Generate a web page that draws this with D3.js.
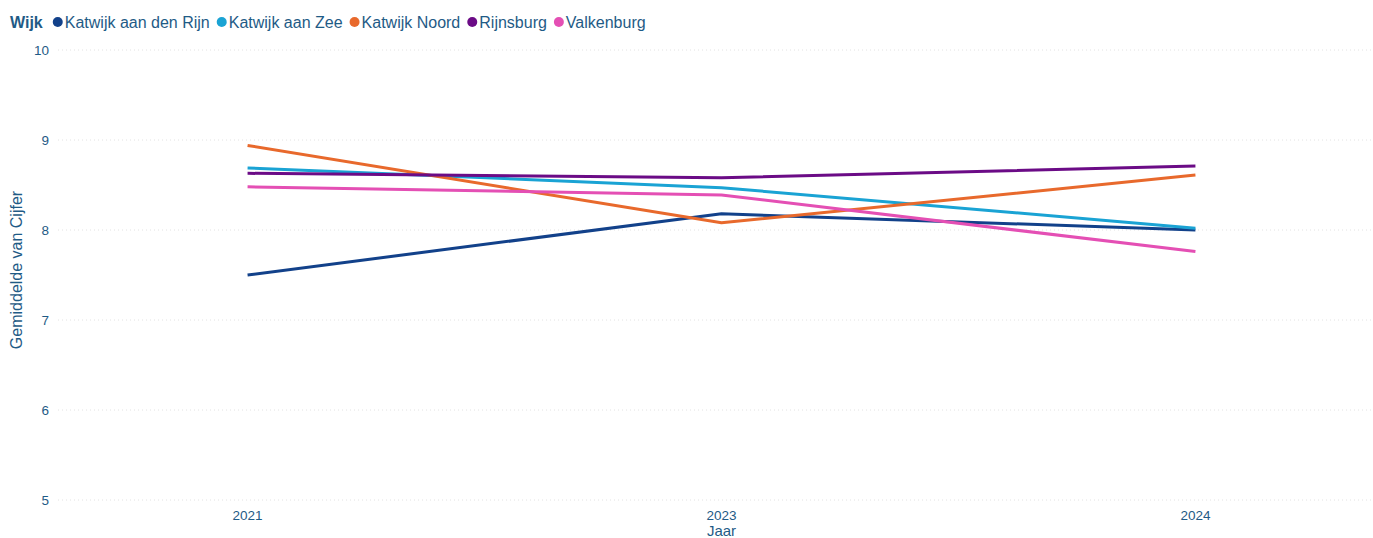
<!DOCTYPE html>
<html>
<head>
<meta charset="utf-8">
<script src="https://cdn.jsdelivr.net/npm/d3@7"></script>
<style>
  body { margin: 0; background: #fff; }
  text { font-family: "Liberation Sans", Arial, sans-serif; }
</style>
</head>
<body>
<svg id="chart" width="1373" height="538"></svg>
<script>
// data
var years = ["2021", "2023", "2024"];
var wijken = ["Katwijk aan den Rijn", "Katwijk aan Zee", "Katwijk Noord", "Rijnsburg", "Valkenburg"];
var colors = ["#12418a", "#1aa3d4", "#e8692c", "#6b0b86", "#e44fb4"];
var rijnValues = [7.50, 8.18, 8.00];
var zeeValues = [8.69, 8.47, 8.02];
var noordValues = [8.94, 8.08, 8.61];
var rijnsburgValues = [8.63, 8.58, 8.71];
var valkenburgValues = [8.48, 8.39, 7.76];
var yTicks = [5, 6, 7, 8, 9, 10];

var series = [rijnValues, zeeValues, noordValues, rijnsburgValues, valkenburgValues];
var textColor = "#1f5b86";

var svg = d3.select("#chart");
var plotLeft = 58, plotRight = 1372, plotTop = 50, plotBottom = 500;

var x = d3.scalePoint().domain(years).range([plotLeft, 1385]).padding(0.4);
var y = d3.scaleLinear().domain([5, 10]).range([plotBottom, plotTop]);

// grid lines
svg.append("g").selectAll("line").data(yTicks).enter().append("line")
   .attr("x1", plotLeft).attr("x2", plotRight)
   .attr("y1", function(d){ return y(d); }).attr("y2", function(d){ return y(d); })
   .attr("stroke", "#e2e2e2").attr("stroke-width", 1)
   .attr("stroke-dasharray", "1,3");

// y axis labels
svg.append("g").selectAll("text").data(yTicks).enter().append("text")
   .attr("x", 49).attr("y", function(d){ return y(d) + 5; })
   .attr("text-anchor", "end").attr("fill", textColor)
   .style("font-size", "13.5px").text(function(d){ return d; });

svg.append("text")
   .attr("transform", "translate(22,270) rotate(-90)")
   .attr("text-anchor", "middle").attr("fill", textColor)
   .style("font-size", "16px").text("Gemiddelde van Cijfer");

// x axis labels
svg.append("g").selectAll("text").data(years).enter().append("text")
   .attr("x", function(d){ return x(d); }).attr("y", 520)
   .attr("text-anchor", "middle").attr("fill", textColor)
   .style("font-size", "13.5px").text(function(d){ return d; });

svg.append("text")
   .attr("x", x("2023")).attr("y", 536)
   .attr("text-anchor", "middle").attr("fill", textColor)
   .style("font-size", "15px").text("Jaar");

// lines
var line = d3.line()
    .x(function(d, i){ return x(years[i]); })
    .y(function(d){ return y(d); });

svg.append("g").selectAll("path").data(series).enter().append("path")
   .attr("d", line)
   .attr("fill", "none")
   .attr("stroke", function(d, i){ return colors[i]; })
   .attr("stroke-width", 3)
   .attr("stroke-linejoin", "round");

// legend
var legend = svg.append("g").attr("transform", "translate(0,22)");
var lx = 10;
var title = legend.append("text").attr("x", lx).attr("y", 5.5)
   .attr("fill", textColor).style("font-size", "16px").style("font-weight", "bold")
   .text("Wijk");
lx += title.node().getComputedTextLength() + 10;
wijken.forEach(function(w, i) {
    legend.append("circle").attr("cx", lx + 5).attr("cy", 0).attr("r", 5).attr("fill", colors[i]);
    var t = legend.append("text").attr("x", lx + 12).attr("y", 5.5)
       .attr("fill", textColor).style("font-size", "16px").text(w);
    lx += 12 + t.node().getComputedTextLength() + 7;
});
</script>
</body>
</html>
